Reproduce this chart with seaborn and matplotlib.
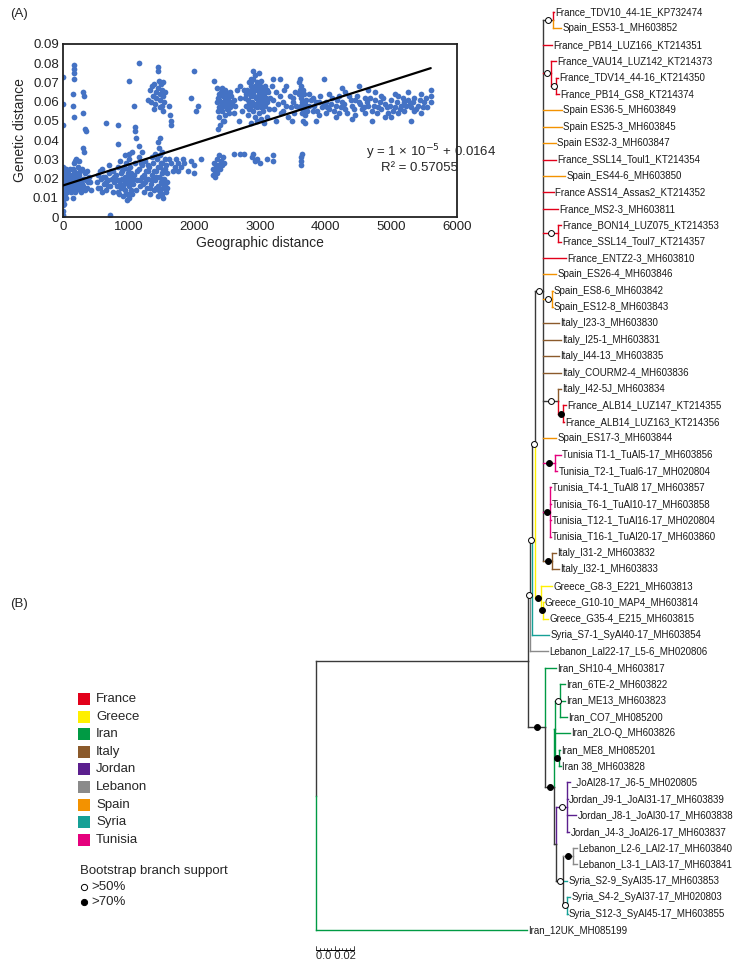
import matplotlib
matplotlib.use("Agg")
import matplotlib.pyplot as plt
import seaborn as sns
import pandas as pd
import numpy as np
from matplotlib.collections import LineCollection
from matplotlib.patches import Rectangle
from matplotlib import font_manager

# ---------------- panel A data: (geographic km, genetic distance) ----------------
near_origin = [
    (0, 0.003), (0, 0.006), (0, 0.009), (0, 0.012), (0, 0.015), (0, 0.018), (0, 0.021), (0, 0.024), (0, 0.026), (0, 0.001),
    (12, 0.016), (15, 0.011), (18, 0.020), (22, 0.007), (25, 0.024), (30, 0.014), (35, 0.018), (40, 0.010), (45, 0.022), (50, 0.016),
    (55, 0.013), (60, 0.020), (70, 0.017), (75, 0.024), (85, 0.014), (95, 0.019), (100, 0.022), (110, 0.016), (120, 0.013), (130, 0.021),
    (140, 0.018), (150, 0.025), (160, 0.015), (165, 0.028), (175, 0.020), (185, 0.017), (195, 0.023), (205, 0.014), (215, 0.019), (225, 0.026),
    (240, 0.016), (250, 0.022), (260, 0.018), (270, 0.013), (285, 0.025), (300, 0.020), (310, 0.016), (330, 0.023), (350, 0.019), (370, 0.015),
    (390, 0.021), (410, 0.018), (430, 0.014), (8, 0.019), (20, 0.023), (30, 0.025), (40, 0.017), (60, 0.015), (80, 0.021), (200, 0.017),
    (230, 0.021), (280, 0.019), (150, 0.010), (5, 0.014), (10, 0.022), (25, 0.012), (50, 0.025), (65, 0.023), (90, 0.017), (105, 0.025),
    (125, 0.019), (135, 0.015), (145, 0.022), (170, 0.024), (190, 0.013), (210, 0.022), (235, 0.018), (255, 0.015), (265, 0.024), (290, 0.017),
    (320, 0.020), (340, 0.014), (360, 0.024), (380, 0.018),
]
near_high = [
    (0, 0.073), (0, 0.059), (0, 0.048), (160, 0.079), (165, 0.077), (160, 0.075), (165, 0.072), (150, 0.064), (155, 0.058), (160, 0.052),
    (300, 0.065), (320, 0.063), (310, 0.054), (330, 0.046), (350, 0.045), (310, 0.036), (320, 0.034), (250, 0.029), (180, 0.029), (200, 0.030),
]
band_500_1050 = [
    (520, 0.018), (540, 0.022), (560, 0.015), (580, 0.020), (600, 0.025), (620, 0.017), (640, 0.021), (660, 0.014), (680, 0.019), (700, 0.023),
    (720, 0.016), (740, 0.020), (760, 0.013), (780, 0.018), (800, 0.022), (820, 0.016), (840, 0.026), (850, 0.012), (860, 0.019), (880, 0.023),
    (890, 0.015), (900, 0.020), (910, 0.011), (920, 0.025), (930, 0.017), (940, 0.021), (950, 0.014), (960, 0.028), (970, 0.018), (980, 0.009),
    (985, 0.023), (990, 0.012), (1000, 0.016), (1000, 0.020), (1010, 0.010), (1020, 0.026), (1030, 0.014), (1040, 0.019), (1050, 0.022), (870, 0.029),
    (600, 0.013), (700, 0.027), (760, 0.024), (930, 0.026), (1000, 0.030),
    (530, 0.015), (570, 0.024), (610, 0.021), (650, 0.018), (690, 0.016), (730, 0.024), (770, 0.021), (810, 0.019), (830, 0.013), (870, 0.017),
    (900, 0.024), (915, 0.015), (945, 0.018), (965, 0.012), (975, 0.021), (995, 0.025), (1015, 0.018), (1035, 0.023), (1045, 0.012),
    (720, 0.001), (660, 0.049), (830, 0.048), (840, 0.038), (1000, 0.071), (1080, 0.058), (1100, 0.047), (1100, 0.045), (1110, 0.041),
    (950, 0.032), (1000, 0.033), (1050, 0.034),
]
band_1050_1600 = [
    (1060, 0.017), (1080, 0.022), (1100, 0.028), (1110, 0.014), (1130, 0.019), (1150, 0.025), (1160, 0.031), (1180, 0.016), (1200, 0.021), (1210, 0.027),
    (1230, 0.013), (1250, 0.018), (1260, 0.024), (1280, 0.015), (1300, 0.020), (1310, 0.026), (1330, 0.012), (1340, 0.017), (1360, 0.022), (1370, 0.028),
    (1390, 0.014), (1400, 0.019), (1410, 0.024), (1430, 0.030), (1440, 0.011), (1450, 0.016), (1460, 0.021), (1470, 0.026), (1480, 0.032), (1480, 0.013),
    (1490, 0.018), (1500, 0.023), (1510, 0.028), (1510, 0.034), (1520, 0.010), (1530, 0.015), (1540, 0.020), (1550, 0.025), (1560, 0.030), (1570, 0.013),
    (1580, 0.018), (1590, 0.023), (1460, 0.036), (1450, 0.039), (1470, 0.041), (1200, 0.034), (1150, 0.037), (1350, 0.031), (1250, 0.029), (1400, 0.033),
    (1300, 0.024), (1420, 0.015), (1520, 0.017), (1500, 0.012), (1150, 0.080),
    (1070, 0.020), (1120, 0.024), (1170, 0.019), (1190, 0.028), (1220, 0.017), (1240, 0.022), (1270, 0.020), (1290, 0.027), (1320, 0.015), (1350, 0.019),
    (1380, 0.024), (1420, 0.021), (1440, 0.026), (1460, 0.014), (1490, 0.028), (1500, 0.020), (1530, 0.024), (1550, 0.017), (1570, 0.027), (1590, 0.015),
]
high_1300_1550 = [
    (1300, 0.061), (1320, 0.066), (1340, 0.060), (1350, 0.068), (1370, 0.063), (1380, 0.069), (1400, 0.059), (1410, 0.065), (1420, 0.062), (1440, 0.067),
    (1450, 0.078), (1450, 0.076), (1460, 0.071), (1470, 0.064), (1480, 0.061), (1490, 0.069), (1500, 0.066), (1510, 0.058), (1520, 0.063), (1530, 0.070),
    (1540, 0.060), (1550, 0.065), (1470, 0.057), (1380, 0.056), (1530, 0.055),
]
sparse_1600_2200 = [
    (1620, 0.058), (1630, 0.053), (1640, 0.050), (1650, 0.048), (1620, 0.030), (1650, 0.028), (1700, 0.026), (1720, 0.030), (1750, 0.028), (1800, 0.026),
    (1820, 0.030), (1850, 0.028), (1900, 0.024), (1950, 0.029), (1950, 0.062), (2000, 0.076), (2000, 0.027), (2030, 0.055), (2050, 0.058), (2000, 0.023),
    (1750, 0.024), (1680, 0.024), (2100, 0.030),
]
high_2300_2750 = [
    (2300, 0.071), (2350, 0.067), (2360, 0.062), (2370, 0.057), (2380, 0.052), (2390, 0.048), (2400, 0.065), (2410, 0.060), (2420, 0.055), (2430, 0.050),
    (2440, 0.063), (2450, 0.058), (2460, 0.066), (2470, 0.053), (2480, 0.061), (2490, 0.056), (2500, 0.064), (2510, 0.059), (2520, 0.062), (2530, 0.054),
    (2540, 0.060), (2550, 0.057), (2560, 0.063), (2380, 0.064), (2400, 0.058), (2420, 0.067), (2360, 0.055), (2340, 0.060), (2450, 0.050), (2480, 0.065),
    (2600, 0.061), (2620, 0.058), (2650, 0.066), (2700, 0.068), (2700, 0.062), (2720, 0.055), (2680, 0.050), (2750, 0.066), (2600, 0.054), (2360, 0.046),
    (2370, 0.061), (2390, 0.057), (2410, 0.064), (2430, 0.059), (2460, 0.061), (2490, 0.062), (2510, 0.056), (2540, 0.065), (2570, 0.059),
]
low_2300_2750 = [
    (2280, 0.022), (2290, 0.025), (2300, 0.028), (2310, 0.021), (2320, 0.024), (2330, 0.026), (2340, 0.030), (2350, 0.023), (2360, 0.027), (2370, 0.032),
    (2390, 0.025), (2400, 0.029), (2420, 0.027), (2440, 0.031), (2450, 0.028), (2600, 0.033), (2750, 0.033), (2700, 0.033),
]
high_2750_3150 = [
    (2770, 0.062), (2780, 0.058), (2800, 0.066), (2810, 0.053), (2820, 0.061), (2830, 0.070), (2840, 0.056), (2850, 0.064), (2860, 0.049), (2870, 0.068),
    (2880, 0.060), (2890, 0.076), (2890, 0.055), (2900, 0.072), (2900, 0.065), (2910, 0.059), (2920, 0.074), (2920, 0.052), (2930, 0.068), (2940, 0.062),
    (2950, 0.057), (2950, 0.070), (2960, 0.066), (2970, 0.060), (2980, 0.075), (2980, 0.054), (2990, 0.064), (3000, 0.068), (3000, 0.058), (3010, 0.062),
    (3020, 0.051), (3030, 0.066), (3040, 0.060), (3050, 0.055), (3060, 0.064), (3070, 0.058), (3080, 0.068), (3090, 0.062), (3100, 0.052), (3110, 0.060),
    (3120, 0.065), (3130, 0.056), (3150, 0.062), (2860, 0.063), (2940, 0.067), (3020, 0.071), (2850, 0.057), (2960, 0.050), (3060, 0.049), (2870, 0.072),
    (2790, 0.064), (2830, 0.059), (2860, 0.070), (2880, 0.066), (2910, 0.063), (2930, 0.058), (2960, 0.062), (2990, 0.069), (3010, 0.057), (3040, 0.065),
    (3070, 0.061), (3100, 0.066),
    (2880, 0.031), (2900, 0.033), (2920, 0.029), (2950, 0.030), (3000, 0.028), (3100, 0.030), (3200, 0.029), (3200, 0.032),
]
high_3150_3700 = [
    (3180, 0.068), (3200, 0.061), (3220, 0.056), (3250, 0.065), (3270, 0.059), (3300, 0.072), (3300, 0.063), (3320, 0.054), (3350, 0.060), (3370, 0.066),
    (3400, 0.058), (3420, 0.052), (3450, 0.063), (3470, 0.057), (3500, 0.060), (3520, 0.054), (3540, 0.065), (3400, 0.068), (3250, 0.050), (3480, 0.050),
    (3350, 0.055), (3550, 0.058), (3200, 0.072), (3500, 0.062),
    (3600, 0.070), (3610, 0.066), (3620, 0.062), (3630, 0.058), (3640, 0.054), (3650, 0.050), (3600, 0.064), (3620, 0.068), (3640, 0.060), (3660, 0.056),
    (3670, 0.064), (3680, 0.059), (3690, 0.053), (3700, 0.061), (3610, 0.072), (3650, 0.066), (3600, 0.057), (3680, 0.049), (3620, 0.031), (3630, 0.029),
    (3640, 0.033), (3620, 0.027),
]
far_band = [
    (3750, 0.058), (3800, 0.055), (3850, 0.060), (3900, 0.053), (3950, 0.057), (3980, 0.072), (4000, 0.060), (4050, 0.056), (4100, 0.062), (4150, 0.058),
    (4200, 0.054), (4250, 0.060), (4300, 0.056), (4350, 0.063), (4400, 0.058), (4450, 0.053), (4500, 0.060), (4550, 0.056), (4600, 0.062), (4650, 0.058),
    (4700, 0.055), (4750, 0.061), (4800, 0.057), (4850, 0.063), (4900, 0.059), (4950, 0.054), (5000, 0.061), (5050, 0.057), (5100, 0.063), (5150, 0.058),
    (5200, 0.055), (5250, 0.061), (5300, 0.057), (5350, 0.062), (5400, 0.058), (5450, 0.054), (5500, 0.060), (5600, 0.060), (5600, 0.063), (5600, 0.066),
    (3800, 0.062), (3900, 0.060), (4050, 0.064), (4150, 0.052), (4300, 0.065), (4450, 0.061), (4600, 0.054), (4750, 0.065), (4900, 0.052), (5050, 0.064),
    (5200, 0.060), (5350, 0.055), (5450, 0.064), (3850, 0.050), (4250, 0.067), (4500, 0.068), (4700, 0.050), (5000, 0.052), (5300, 0.050), (3750, 0.064),
    (4000, 0.054), (4200, 0.063), (4400, 0.051), (4650, 0.066), (4850, 0.056), (5100, 0.054), (5250, 0.065), (5550, 0.057),
    (3720, 0.055), (3780, 0.061), (3820, 0.058), (3870, 0.055), (3920, 0.063), (3970, 0.059), (4020, 0.057), (4080, 0.059), (4120, 0.055), (4180, 0.061),
    (4230, 0.057), (4280, 0.059), (4330, 0.054), (4380, 0.061), (4430, 0.056), (4480, 0.063), (4530, 0.059), (4580, 0.057), (4630, 0.060), (4680, 0.062),
    (4730, 0.058), (4780, 0.054), (4830, 0.060), (4880, 0.062), (4930, 0.057), (4980, 0.058), (5030, 0.055), (5080, 0.060), (5130, 0.056), (5180, 0.062),
    (5230, 0.058), (5280, 0.059), (5330, 0.060), (5380, 0.056), (5430, 0.061), (5480, 0.057), (5530, 0.062),
]

trend_slope = 1.09e-5
trend_intercept = 0.0164
trend_range = [0, 5600]
equation_text = "y = 1 × 10$^{-5}$ + 0.0164"
r2_text = "R² = 0.57055"

# ---------------- panel B data: ML tree (newick, bootstrap as node labels) ----------------
tree_lines = """
((((((
(France_TDV10_44-1E_KP732474:0.0005,Spain_ES53-1_MH603852:0.0043)61:0.0053,
France_PB14_LUZ166_KT214351:0.0048,
(France_VAU14_LUZ142_KT214373:0.0027,(France_TDV14_44-16_KT214350:0.0011,France_PB14_GS8_KT214374:0.0016)57:0.0027)63:0.0043,
Spain ES36-5_MH603849:0.0101,
Spain ES25-3_MH603845:0.0101,
Spain ES32-3_MH603847:0.0069,
France_SSL14_Toul1_KT214354:0.0069,
Spain_ES44-6_MH603850:0.0117,
France ASS14_Assas2_KT214352:0.0059,
France_MS2-3_MH603811:0.0080,
(France_BON14_LUZ075_KT214353:0.0016,France_SSL14_Toul7_KT214357:0.0016)59:0.0080,
France_ENTZ2-3_MH603810:0.0123,
Spain_ES26-4_MH603846:0.0069,
(Spain_ES8-6_MH603842:0.0003,Spain_ES12-8_MH603843:0.0003)56:0.0048,
Italy_I23-3_MH603830:0.0085,
Italy_I25-1_MH603831:0.0096,
Italy_I44-13_MH603835:0.0085,
Italy_COURM2-4_MH603836:0.0096,
(Italy_I42-5J_MH603834:0.0016,(France_ALB14_LUZ147_KT214355:0.0016,France_ALB14_LUZ163_KT214356:0.0003)88:0.0027)64:0.0080,
Spain_ES17-3_MH603844:0.0069,
(Tunisia T1-1_TuAl5-17_MH603856:0.0032,Tunisia_T2-1_Tual6-17_MH020804:0.0011)91:0.0064,
(Tunisia_T4-1_TuAl8 17_MH603857:0.0003,Tunisia_T6-1_TuAl10-17_MH603858:0.0003,Tunisia_T12-1_TuAl16-17_MH020804:0.0003,Tunisia_T16-1_TuAl20-17_MH603860:0.0003)85:0.0037,
(Italy_I31-2_MH603832:0.0021,Italy_I32-1_MH603833:0.0037)93:0.0048
)60:0.0043,
(Greece_G8-3_E221_MH603813:0.0059,(Greece_G10-10_MAP4_MH603814:0.0003,Greece_G35-4_E215_MH603815:0.0027)82:0.0011)87:0.0032
)58:0.0016,
Syria_S7-1_SyAl40-17_MH603854:0.0091
)55:0.0011,
Lebanon_Lal22-17_L5-6_MH020806:0.0096
)62:0.0011,
(
Iran_SH10-4_MH603817:0.0059,
((
(Iran_6TE-2_MH603822:0.0027,Iran_ME13_MH603823:0.0027,Iran_CO7_MH085200:0.0037)66:0.0027,
Iran_2LO-Q_MH603826:0.0080,
(Iran_ME8_MH085201:0.0003,Iran 38_MH603828:0.0011)79:0.0021
)40:0.0005,
(
(_JoAl28-17_J6-5_MH020805:0.0016,Jordan_J9-1_JoAl31-17_MH603839:0.0003,Jordan_J8-1_JoAl30-17_MH603838:0.0048,Jordan_J4-3_JoAl26-17_MH603837:0.0011)67:0.0059,
((Lebanon_L2-6_LAl2-17_MH603840:0.0021,Lebanon_L3-1_LAl3-17_MH603841:0.0021)84:0.0053,Syria_S2-9_SyAl35-17_MH603853:0.0021,(Syria_S4-2_SyAl37-17_MH020803:0.0016,Syria_S12-3_SyAl45-17_MH603855:0.0003)58:0.0021)61:0.0037
)45:0.0011
)90:0.0048
)83:0.0091
)0:0.1131,
Iran_12UK_MH085199:0.1125);
"""
newick = "".join(line.strip() for line in tree_lines.splitlines())

countries = ["France", "Greece", "Iran", "Italy", "Jordan", "Lebanon", "Spain", "Syria", "Tunisia"]
country_colors = ["#e2001a", "#fff000", "#009a44", "#8b5a2b", "#5b1f8e", "#8a8a8a", "#f39200", "#16a096", "#e5007d"]
country_override = {"_JoAl28-17_J6-5_MH020805": "Jordan"}
mixed_color = "#3a3a3a"
scale_len = 0.02


def parse_newick(s):
    pos = 0

    def node():
        nonlocal pos
        n = {"children": [], "name": "", "len": 0.0, "sup": None}
        if s[pos] == "(":
            pos += 1
            while True:
                n["children"].append(node())
                if s[pos] == ",":
                    pos += 1
                else:
                    break
            pos += 1
        start = pos
        while s[pos] not in ",():;":
            pos += 1
        label = s[start:pos].strip()
        if n["children"]:
            n["sup"] = int(label) if label else None
        else:
            n["name"] = label
        if s[pos] == ":":
            pos += 1
            start = pos
            while s[pos] not in ",();":
                pos += 1
            n["len"] = float(s[start:pos])
        return n

    return node()


def country_of(name):
    if name in country_override:
        return country_override[name]
    return name.replace(" ", "_").split("_")[0]


cmap = dict(zip(countries, country_colors))
leaves = []


def layout(n, x0):
    n["x"] = x0 + n["len"]
    if not n["children"]:
        n["y"] = len(leaves)
        n["set"] = {country_of(n["name"])}
        leaves.append(n)
    else:
        n["set"] = set()
        for c in n["children"]:
            layout(c, n["x"])
            n["set"] |= c["set"]
        n["y"] = (n["children"][0]["y"] + n["children"][-1]["y"]) / 2
    n["color"] = cmap[next(iter(n["set"]))] if len(n["set"]) == 1 else mixed_color


root = parse_newick(newick)
root["len"] = 0.0
layout(root, 0.0)

# ---------------- fonts ----------------
sns.set_style("white")
plt.rcParams["font.family"] = ["Liberation Sans", "DejaVu Sans"]
installed = {f.name for f in font_manager.fontManager.ttflist}
if "Liberation Sans Narrow" in installed:
    tree_family, tree_size = ["Liberation Sans Narrow", "DejaVu Sans"], 8.5
else:
    tree_family, tree_size = ["Liberation Sans", "DejaVu Sans"], 7

W, H = 745, 968
fig = plt.figure(figsize=(W / 100, H / 100), dpi=100)

# ---------------- panel B: tree ----------------
ax_t = fig.add_axes([0, 0, 1, 1])
px_per_unit = 1875.0
root_px = 316
row_px = 16.393
top_px = 12
ax_t.set_xlim(-root_px / px_per_unit, (W - root_px) / px_per_unit)
ax_t.set_ylim((H - top_px) / row_px, -top_px / row_px)
ax_t.axis("off")

segs, cols = [], []
open_pts, fill_pts = [], []


def draw(n):
    kids = n["children"]
    # vertical connector: one colour for single-country / polytomy, halves for bifurcations
    if len(n["set"]) == 1 or len(kids) > 2:
        segs.append([(n["x"], kids[0]["y"]), (n["x"], kids[-1]["y"])])
        cols.append(n["color"])
    else:
        for c in kids:
            segs.append([(n["x"], n["y"]), (n["x"], c["y"])])
            cols.append(c["color"])
    for c in kids:
        segs.append([(n["x"], c["y"]), (c["x"], c["y"])])
        cols.append(c["color"])
        if c["children"]:
            if c["sup"] is not None and c["sup"] >= 70:
                fill_pts.append(((n["x"] + c["x"]) / 2, c["y"]))
            elif c["sup"] is not None and c["sup"] >= 50:
                open_pts.append(((n["x"] + c["x"]) / 2, c["y"]))
            draw(c)


draw(root)
ax_t.add_collection(LineCollection(segs, colors=cols, linewidths=1.0, capstyle="projecting"))
if open_pts:
    ox, oy = zip(*open_pts)
    ax_t.scatter(ox, oy, s=18, facecolor="white", edgecolor="black", linewidth=0.7, zorder=4)
if fill_pts:
    fx, fy = zip(*fill_pts)
    ax_t.scatter(fx, fy, s=18, facecolor="black", edgecolor="black", linewidth=0.7, zorder=4)

for lf in leaves:
    ax_t.text(lf["x"] + 0.0006, lf["y"], lf["name"], ha="left", va="center",
              fontsize=tree_size, family=tree_family, color="#1a1a1a")

# scale bar
bar_y = (950 - top_px) / row_px
ax_t.plot([0, scale_len], [bar_y, bar_y], color="black", lw=0.7)
for k, t in enumerate(np.linspace(0, scale_len, 11)):
    h = 0.25 if k % 5 == 0 else 0.15
    ax_t.plot([t, t], [bar_y, bar_y - h], color="black", lw=0.5)
ax_t.text(0, bar_y + 0.05, "0.0 0.02", ha="left", va="top", fontsize=tree_size + 1, family=tree_family)

# ---------------- legend overlay (pixel layout) ----------------
ax_l = fig.add_axes([0, 0, 1, 1])
ax_l.set_xlim(0, W)
ax_l.set_ylim(H, 0)
ax_l.axis("off")
for i, (name, col) in enumerate(zip(countries, country_colors)):
    yc = 699 + i * 17.6
    ax_l.add_patch(Rectangle((78, yc - 6), 12, 12, facecolor=col, edgecolor="none"))
    ax_l.text(96, yc, name, ha="left", va="center", fontsize=9.5)
ax_l.text(80, 871, "Bootstrap branch support", ha="left", va="center", fontsize=9.5)
ax_l.scatter([84], [887], s=20, facecolor="white", edgecolor="black", linewidth=0.7)
ax_l.scatter([84], [902], s=20, facecolor="black", edgecolor="black", linewidth=0.7)
ax_l.text(91, 887, ">50%", ha="left", va="center", fontsize=9.5)
ax_l.text(91, 902, ">70%", ha="left", va="center", fontsize=9.5)
ax_l.text(10, 14, "(A)", ha="left", va="center", fontsize=9.5)
ax_l.text(10, 604, "(B)", ha="left", va="center", fontsize=9.5)

# ---------------- panel A: scatter ----------------
pts = (near_origin + near_high + band_500_1050 + band_1050_1600 + high_1300_1550 + sparse_1600_2200
       + high_2300_2750 + low_2300_2750 + high_2750_3150 + high_3150_3700 + far_band)
df = pd.DataFrame(pts, columns=["geo", "gen"])

ax_s = fig.add_axes([63 / W, 1 - 217 / H, (457 - 63) / W, (217 - 44) / H])
sns.scatterplot(data=df, x="geo", y="gen", ax=ax_s, color="#4472c4", s=17, linewidth=0, zorder=2)
tx = np.array(trend_range, dtype=float)
sns.lineplot(x=tx, y=trend_slope * tx + trend_intercept, ax=ax_s, color="black", lw=1.6, zorder=3)
ax_s.set_xlim(0, 6000)
ax_s.set_ylim(0, 0.09)
ax_s.set_xticks(range(0, 6001, 1000))
ax_s.set_xticklabels([str(v) for v in range(0, 6001, 1000)])
yt = [round(0.01 * k, 2) for k in range(10)]
ax_s.set_yticks(yt)
ax_s.set_yticklabels([f"{v:g}" for v in yt])
ax_s.tick_params(length=0, labelsize=9.5, pad=3, colors="#222222")
for sp in ax_s.spines.values():
    sp.set_visible(True)
    sp.set_color("#222222")
    sp.set_linewidth(1.3)
ax_s.set_xlabel("Geographic distance", fontsize=10, labelpad=2)
ax_s.set_ylabel("Genetic distance", fontsize=10, labelpad=4)
ax_s.text(4619, 0.0338, equation_text, fontsize=9.5, ha="left", va="center")
ax_s.text(4848, 0.0255, r2_text, fontsize=9.5, ha="left", va="center")

fig.savefig("out.png", dpi=100, facecolor="white")
